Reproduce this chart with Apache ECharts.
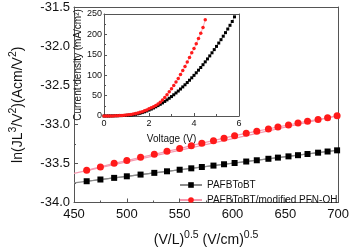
<!DOCTYPE html>
<html><head><meta charset="utf-8">
<script src="https://cdn.jsdelivr.net/npm/echarts@6/dist/echarts.min.js"></script>
<style>html,body{margin:0;padding:0;background:#fff}#c{width:352px;height:252px}</style>
</head><body><div id="c"></div>
<script>
// Main plot: x = (V/L)^0.5
const mainX = [462, 475, 488, 500, 513, 526, 538, 550, 561, 571, 582, 592, 602, 613, 623, 634, 643, 653, 662, 671, 681, 690, 699];
const blackY = [-33.728, -33.706, -33.685, -33.665, -33.643, -33.621, -33.601, -33.581, -33.563, -33.546, -33.528, -33.511, -33.495, -33.476, -33.460, -33.441, -33.426, -33.410, -33.395, -33.380, -33.363, -33.348, -33.333];
const redY = [-33.588, -33.545, -33.499, -33.464, -33.422, -33.384, -33.346, -33.311, -33.273, -33.241, -33.209, -33.177, -33.145, -33.116, -33.088, -33.060, -33.034, -33.009, -32.983, -32.960, -32.939, -32.916, -32.890];
const fitX = [450, 700];
const blackFit = [-33.748, -33.331];
const redFit = [-33.627, -32.888];
const seriesNames = ['PAFBToBT', 'PAFBToBT/modified PFN-OH'];
// Inset J-V
const blackV = [0.0,0.1,0.2,0.3,0.4,0.5,0.6,0.7,0.8,0.9,1.0,1.1,1.2,1.3,1.4,1.5,1.6,1.7,1.8,1.9,2.0,2.1,2.2,2.3,2.4,2.5,2.6,2.7,2.8,2.9,3.0,3.1,3.2,3.3,3.4,3.5,3.6,3.7,3.8,3.9,4.0,4.1,4.2,4.3,4.4,4.5,4.6,4.7,4.8,4.9,5.0,5.1,5.2,5.3,5.4,5.5,5.6,5.7,5.8];
const blackJ = [0,0.05,0.1,0.2,0.3,0.5,0.7,0.9,1.1,1.3,1.6,1.9,2.4,3.2,4.2,5.4,6.7,8.4,10.3,12.3,14.6,17.0,19.7,22.5,25.5,28.7,32.1,35.7,39.5,43.5,47.6,52.0,56.5,61.2,66.1,71.3,76.5,82.0,87.7,93.6,99.6,105.9,112.3,118.9,125.7,132.7,139.9,147.3,154.9,162.7,170.6,178.8,187.1,195.6,204.3,213.2,222.3,231.6,243.0];
const redV = [0.0,0.1,0.2,0.3,0.4,0.5,0.6,0.7,0.8,0.9,1.0,1.1,1.2,1.3,1.4,1.5,1.6,1.7,1.8,1.9,2.0,2.1,2.2,2.3,2.4,2.5,2.6,2.7,2.8,2.9,3.0,3.1,3.2,3.3,3.4,3.5,3.6,3.7,3.8,3.9,4.0,4.1,4.2,4.3,4.4,4.5];
const redJ = [0,0.05,0.1,0.2,0.3,0.5,0.7,1.0,1.3,1.7,2.2,2.9,3.7,4.7,5.9,7.3,8.9,10.7,12.6,14.9,17.5,20.0,22.8,25.9,29.5,33.6,39.4,45.6,52.2,59.3,66.9,74.9,83.3,92.2,101.6,111.4,121.6,132.4,143.5,155.1,165.2,177.0,190.0,203.0,217.0,236.0];

const zip = (a, b) => a.map((v, i) => [v, b[i]]);
const font = 'Arial, "Liberation Sans", sans-serif';
const axisCol = '#555';
const richName = {
  a: {fontSize: 14, color: '#111', fontFamily: font},
  s: {fontSize: 10.5, color: '#111', fontFamily: font, padding: [0, 0, 10, 0]}
};

const chart = echarts.init(document.getElementById('c'), null, {renderer: 'canvas'});
chart.setOption({
  animation: false,
  backgroundColor: '#fff',
  textStyle: {fontFamily: font},
  grid: [
    {left: 69, right: 11, top: 7, bottom: 48, show: false},
    {left: 104, top: 14, width: 135, height: 102, show: true, backgroundColor: '#fff', borderWidth: 0}
  ],
  legend: {
    data: seriesNames,
    orient: 'vertical', left: 174, top: 175, itemGap: 5,
    itemWidth: 22, itemHeight: 7,
    textStyle: {fontSize: 10, color: '#111', fontFamily: font}
  },
  xAxis: [
    {gridIndex: 0, type: 'value', min: 450, max: 700, interval: 50,
     axisLine: {show: true, onZero: false, lineStyle: {color: axisCol, width: 1}},
     axisTick: {show: true, inside: true, length: 4, lineStyle: {color: axisCol}},
     minorTick: {show: true, splitNumber: 2, length: 2, lineStyle: {color: axisCol}},
     axisLabel: {fontSize: 13, color: '#111', margin: 5},
     splitLine: {show: false},
     name: '{a|(V/L)}{s|0.5}{a| (V/cm)}{s|0.5}', nameLocation: 'middle', nameGap: 27,
     nameTextStyle: {rich: richName}},
    {gridIndex: 0, type: 'value', min: 450, max: 700, position: 'top',
     axisLine: {show: true, onZero: false, lineStyle: {color: axisCol}}, axisTick: {show: false}, axisLabel: {show: false}, splitLine: {show: false}},
    {gridIndex: 1, type: 'value', min: 0, max: 6, interval: 2,
     axisLine: {show: true, onZero: false, lineStyle: {color: axisCol}},
     axisTick: {show: true, inside: true, length: 3, lineStyle: {color: axisCol}},
     minorTick: {show: true, splitNumber: 2, length: 2, lineStyle: {color: axisCol}},
     axisLabel: {fontSize: 9, color: '#111', margin: 3},
     splitLine: {show: false},
     name: 'Voltage (V)', nameLocation: 'middle', nameGap: 18,
     nameTextStyle: {fontSize: 10, color: '#111'}},
    {gridIndex: 1, type: 'value', min: 0, max: 6, position: 'top',
     axisLine: {show: true, onZero: false, lineStyle: {color: axisCol}}, axisTick: {show: false}, axisLabel: {show: false}, splitLine: {show: false}}
  ],
  yAxis: [
    {gridIndex: 0, type: 'value', min: -34, max: -31.5, interval: 0.5,
     axisLine: {show: true, onZero: false, lineStyle: {color: axisCol}},
     axisTick: {show: true, inside: true, length: 4, lineStyle: {color: axisCol}},
     minorTick: {show: true, splitNumber: 2, length: 2, lineStyle: {color: axisCol}},
     axisLabel: {fontSize: 13, color: '#111', margin: 4, formatter: v => v.toFixed(1)},
     splitLine: {show: false},
     name: '{a|ln(JL}{s|3}{a|/V}{s|2}{a|)(Acm/V}{s|2}{a|)}', nameLocation: 'middle', nameGap: 45, nameRotate: 90,
     nameTextStyle: {rich: richName}},
    {gridIndex: 0, type: 'value', min: -34, max: -31.5, position: 'right',
     axisLine: {show: true, onZero: false, lineStyle: {color: axisCol}}, axisTick: {show: false}, axisLabel: {show: false}, splitLine: {show: false}},
    {gridIndex: 1, type: 'value', min: 0, max: 250, interval: 50,
     axisLine: {show: true, onZero: false, lineStyle: {color: axisCol}},
     axisTick: {show: true, inside: true, length: 3, lineStyle: {color: axisCol}},
     minorTick: {show: true, splitNumber: 2, length: 2, lineStyle: {color: axisCol}},
     axisLabel: {fontSize: 9, color: '#111', margin: 2},
     splitLine: {show: false},
     name: 'Current density (mA/cm\u00B2)', nameLocation: 'middle', nameGap: 20, nameRotate: 90,
     nameTextStyle: {fontSize: 10, color: '#111'}},
    {gridIndex: 1, type: 'value', min: 0, max: 250, position: 'right',
     axisLine: {show: true, onZero: false, lineStyle: {color: axisCol}}, axisTick: {show: false}, axisLabel: {show: false}, splitLine: {show: false}}
  ],
  series: [
    {type: 'line', xAxisIndex: 0, yAxisIndex: 0, data: zip(fitX, blackFit), showSymbol: false, lineStyle: {color: '#8c8c8c', width: 1.2}, silent: true, z: 1},
    {type: 'line', xAxisIndex: 0, yAxisIndex: 0, data: zip(fitX, redFit), showSymbol: false, lineStyle: {color: '#f59ab0', width: 1.2}, silent: true, z: 1},
    {name: seriesNames[0], type: 'line', xAxisIndex: 0, yAxisIndex: 0, data: zip(mainX, blackY), symbol: 'rect', symbolSize: 6,
     itemStyle: {color: '#000'}, lineStyle: {color: '#8c8c8c', width: 1.2}, z: 3},
    {name: seriesNames[1], type: 'line', xAxisIndex: 0, yAxisIndex: 0, data: zip(mainX, redY), symbol: 'circle', symbolSize: 7,
     itemStyle: {color: '#ff1a1a'}, lineStyle: {color: '#f59ab0', width: 1.2}, z: 3},
    {type: 'line', xAxisIndex: 2, yAxisIndex: 2, data: zip(blackV, blackJ), symbol: 'rect', symbolSize: 3,
     itemStyle: {color: '#000'}, lineStyle: {color: '#888', width: 0.8}, z: 5},
    {type: 'line', xAxisIndex: 2, yAxisIndex: 2, data: zip(redV, redJ), symbol: 'circle', symbolSize: 3.5,
     itemStyle: {color: '#ff1a1a'}, lineStyle: {color: '#f59ab0', width: 0.8}, z: 5}
  ]
});
</script></body></html>
